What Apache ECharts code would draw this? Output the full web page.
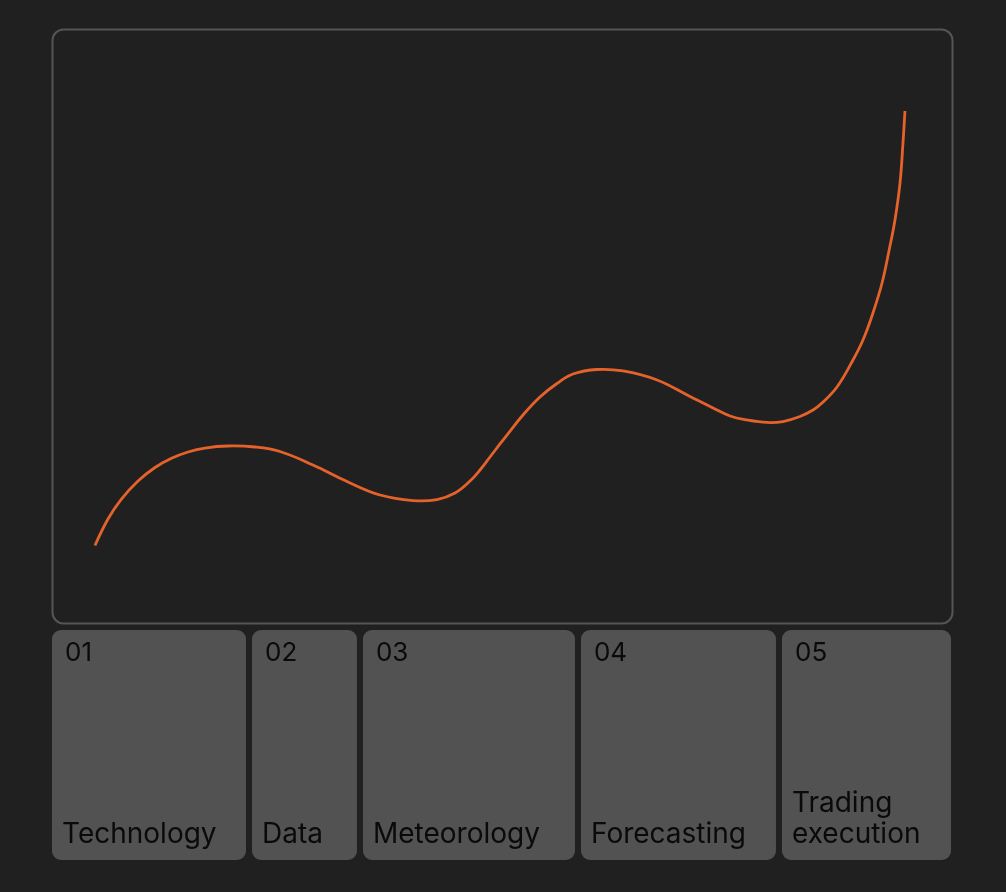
<!DOCTYPE html>
<html>
<head>
<meta charset="utf-8">
<script src="https://cdn.jsdelivr.net/npm/echarts@6/dist/echarts.min.js"></script>
<style>
  html, body { margin: 0; padding: 0; background: #202020; }
  #chart { width: 1006px; height: 892px; }
</style>
</head>
<body>
<div id="chart"></div>
<script>
// Curve (x: 0-100 progress, y: 0-100 value)
const curveX = [4.89, 6.34, 7.79, 9.68, 11.57, 13.35, 15.24, 17.13, 19.69, 22.69, 25.47, 29.14, 32.93, 36.60, 40.27, 42.94, 44.94, 46.61, 47.72, 48.83, 49.94, 50.72, 52.50, 54.39, 56.28, 58.06, 60.73, 63.63, 67.41, 71.08, 73.64, 75.53, 77.42, 79.64, 81.42, 83.31, 84.76, 85.76, 87.43, 89.21, 90.32, 91.43, 92.44, 93.21, 93.88, 94.44, 94.77, 94.99];
const curveY = [12.88, 17.34, 20.62, 23.74, 26.01, 27.53, 28.62, 29.29, 29.63, 29.46, 28.70, 26.43, 23.65, 21.38, 20.45, 20.62, 21.72, 23.74, 25.59, 27.78, 29.97, 31.48, 34.85, 37.88, 40.15, 41.75, 42.51, 42.26, 40.74, 37.96, 36.03, 34.68, 34.01, 33.59, 33.75, 34.60, 35.69, 36.87, 39.56, 44.11, 47.47, 52.02, 57.07, 62.46, 67.68, 73.91, 80.64, 86.03];

// Stages below the chart
const stageNumbers = ['01', '02', '03', '04', '05'];
const stageNames = ['Technology', 'Data', 'Meteorology', 'Forecasting', 'Trading\nexecution'];
const stageBounds = [0, 22.10, 34.36, 58.45, 80.66, 100];

const curveData = curveX.map((x, i) => [x, curveY[i]]);
const stageData = stageNumbers.map((n, i) => [stageBounds[i], stageBounds[i + 1], i]);

const chart = echarts.init(document.getElementById('chart'), null, { renderer: 'canvas' });

const hiddenAxis = {
  show: false,
  splitLine: { show: false },
  axisLine: { show: false },
  axisTick: { show: false },
  axisLabel: { show: false }
};

// smooth path through data points (projected via the cartesian axes)
function smoothPath(pts, s) {
  let d = 'M' + pts[0][0] + ' ' + pts[0][1];
  const n = pts.length;
  const tangent = (i) => {
    const p = pts[i];
    const prev = pts[Math.max(i - 1, 0)];
    const next = pts[Math.min(i + 1, n - 1)];
    const l0 = Math.hypot(p[0] - prev[0], p[1] - prev[1]);
    const l1 = Math.hypot(next[0] - p[0], next[1] - p[1]);
    const vx = next[0] - prev[0], vy = next[1] - prev[1];
    const r = (l0 + l1) > 0 ? l1 / (l0 + l1) : 0.5;
    return {
      inX: p[0] - vx * s * (1 - r), inY: p[1] - vy * s * (1 - r),
      outX: p[0] + vx * s * r, outY: p[1] + vy * s * r
    };
  };
  for (let i = 0; i < n - 1; i++) {
    const a = (i === 0) ? { outX: pts[0][0], outY: pts[0][1] } : tangent(i);
    const b = (i + 1 === n - 1) ? { inX: pts[n - 1][0], inY: pts[n - 1][1] } : tangent(i + 1);
    d += ' C' + a.outX + ' ' + a.outY + ' ' + b.inX + ' ' + b.inY + ' ' + pts[i + 1][0] + ' ' + pts[i + 1][1];
  }
  return d;
}

chart.setOption({
  backgroundColor: '#202020',
  animation: false,
  graphic: [{
    type: 'rect',
    left: 50, top: 27,
    shape: { width: 900, height: 594, r: 11 },
    style: { fill: 'none', stroke: '#555555', lineWidth: 2 },
    z: -1
  }],
  grid: [
    { left: 51, right: 56, top: 28, bottom: 270 },
    { left: 49, right: 52, top: 630, bottom: 32 }
  ],
  xAxis: [
    Object.assign({ type: 'value', min: 0, max: 100, gridIndex: 0 }, hiddenAxis),
    Object.assign({ type: 'value', min: 0, max: 100, gridIndex: 1 }, hiddenAxis)
  ],
  yAxis: [
    Object.assign({ type: 'value', min: 0, max: 100, gridIndex: 0 }, hiddenAxis),
    Object.assign({ type: 'value', min: 0, max: 1, gridIndex: 1 }, hiddenAxis)
  ],
  series: [
    {
      type: 'custom',
      xAxisIndex: 0, yAxisIndex: 0,
      data: curveData,
      renderItem: function (params, api) {
        if (params.dataIndex !== 0) return null;
        const pts = curveData.map(d => api.coord(d));
        return {
          type: 'path',
          shape: { pathData: smoothPath(pts, 0.4) },
          style: { fill: 'none', stroke: '#E5622B', lineWidth: 2.8, lineCap: 'butt', lineJoin: 'round' }
        };
      }
    },
    {
      type: 'custom',
      xAxisIndex: 1, yAxisIndex: 1,
      data: stageData,
      renderItem: function (params, api) {
        const s = api.value(0), e = api.value(1), idx = api.value(2);
        const p0 = api.coord([s, 1]);
        const p1 = api.coord([e, 0]);
        const x = p0[0] + 3;
        const w = p1[0] - p0[0] - 6;
        const y = p0[1];
        const h = p1[1] - p0[1];
        return {
          type: 'group',
          children: [
            { type: 'rect', shape: { x: x, y: y, width: w, height: h, r: 9 }, style: { fill: '#525252' } },
            { type: 'text', style: { text: stageNumbers[idx], x: x + 13, y: y + 10, fill: '#0a0a0a', font: '400 26px Inter', align: 'left', verticalAlign: 'top' } },
            { type: 'text', style: { text: stageNames[idx], x: x + 10, y: y + h - 10, fill: '#0a0a0a', font: '400 28px Inter', lineHeight: 31, align: 'left', verticalAlign: 'bottom' } }
          ]
        };
      }
    }
  ]
});
</script>
</body>
</html>
